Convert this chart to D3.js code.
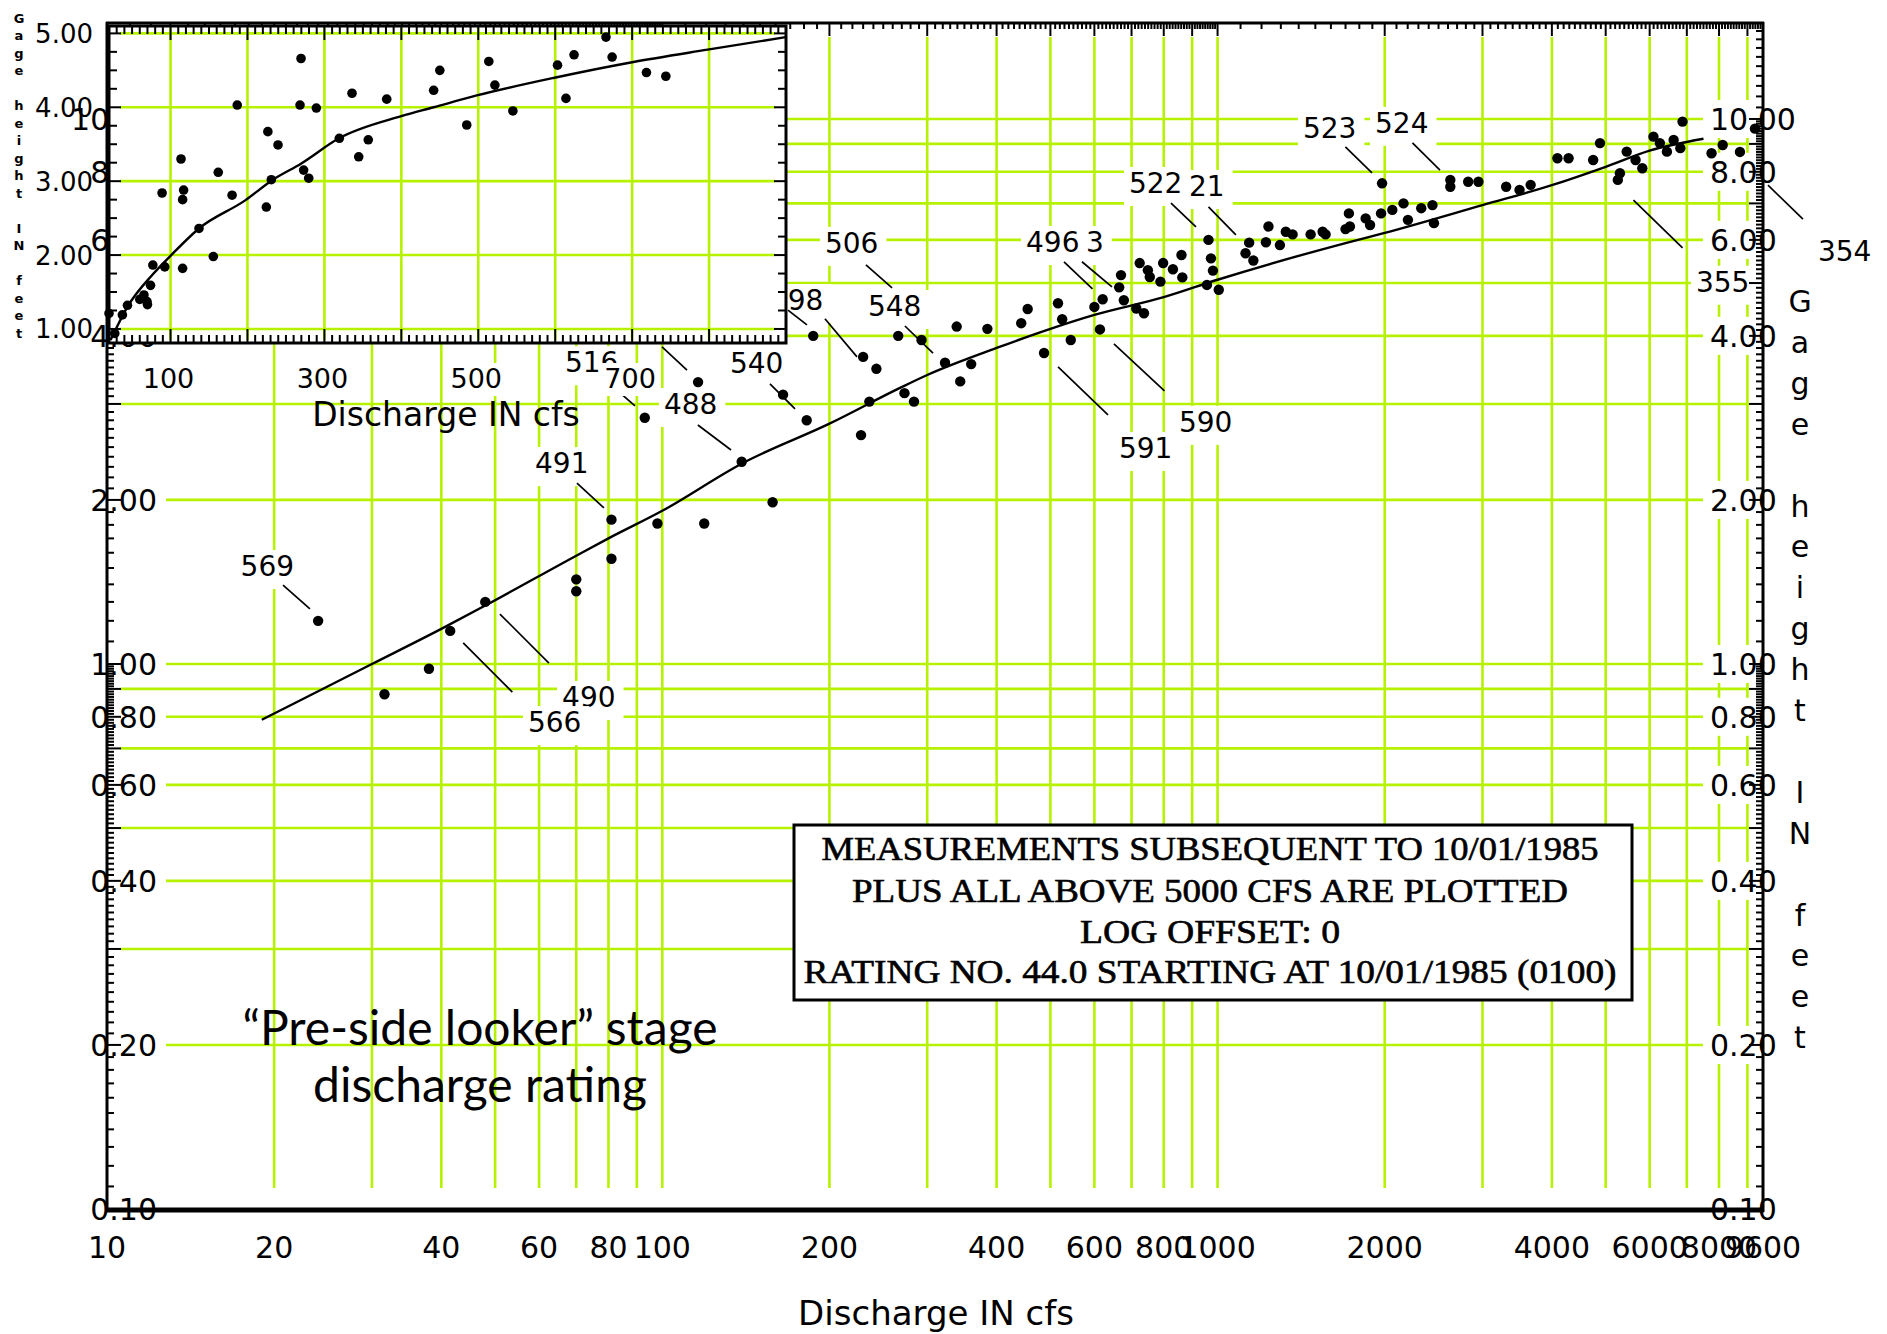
<!DOCTYPE html>
<html><head><meta charset="utf-8">
<script src="https://cdn.jsdelivr.net/npm/d3@7/dist/d3.min.js"></script>
<style>html,body{margin:0;padding:0;background:#fff;}svg{display:block;}</style>
</head><body>
<svg id="chart" width="1887" height="1334"></svg>
<script>
// ---------------- data ----------------
// main rating curve (discharge cfs, gage height ft)
const ratingQ = [19,30,40,48,70,80,100,140,200,268,300,400,500,600,800,1000,1700,2000,3000,4000,5000,6000,7500];
const ratingH = [0.79,1.0,1.16,1.28,1.58,1.70,1.91,2.34,2.76,3.21,3.39,3.80,4.12,4.37,4.71,5.07,5.92,6.18,6.95,7.56,8.17,8.75,9.2];

// main plotted measurements
const measQ = [24,31.6,38,41.5,48,70,70,81,81,98,119,158,139,93,116,182,228,187,230,243,266,293,323,360,344,339,385,284,273,236,165,
  455,443,516,525,544,487,614,600,621,665,670,678,714,737,724,749,755,798,789,831,864,861,963,973,981,957,1005,1140,1123,1160,
  1235,1222,1295,1327,1365,1471,1546,1565,1700,1731,1724,1848,1882,1970,1978,2064,2162,2202,2327,2438,2453,2625,2625,2827,2950,
  3309,3498,3663,4093,4287,4747,4883,5258,5304,5455,5660,5820,6095,6260,6445,6627,6814,6876,8123,7755,8725,9285];
const measH = [1.2,0.88,0.98,1.15,1.30,1.43,1.36,1.56,1.84,1.81,1.81,1.98,2.35,2.83,3.29,2.80,2.63,4.0,3.66,3.48,4.0,3.93,3.57,3.55,3.3,4.16,4.12,3.03,3.14,3.03,3.12,
  4.48,4.22,4.59,4.29,3.93,3.72,4.11,4.52,4.67,4.91,5.17,4.65,4.49,4.40,5.44,5.28,5.13,5.44,5.03,5.30,5.12,5.63,6.0,5.55,5.27,4.96,4.86,5.93,5.67,5.5,
  6.35,5.94,5.87,6.21,6.14,6.14,6.21,6.14,6.28,6.35,6.71,6.57,6.39,6.71,7.62,6.81,7.0,6.53,6.86,6.95,6.44,7.73,7.51,7.67,7.67,
  7.51,7.41,7.57,8.47,8.47,8.41,9.03,7.73,7.95,8.71,8.41,8.12,9.28,9.03,8.71,9.15,8.84,9.89,8.96,8.65,8.7,9.6];

// measurement number labels (text anchor in data units)
const annotText = ["569","516","488","540","491","490","566","506","498","548","496","3","591","590","522","21","523","524","355","354"];
const annotQ = [17.4,66.8,100.7,132.4,59.0,66.0,57.3,196.3,156.3,234.6,451.9,579.4,664.4,852.2,692.5,888.2,1425,1921,7270,12059];
const annotH = [1.45,3.43,2.876,3.42,2.24,0.834,0.750,5.68,4.46,4.35,5.70,5.70,2.388,2.666,7.315,7.22,9.23,9.43,4.82,5.49];

// leader lines (data units)
const leadQ1 = [20.75,80.0,115.9,156.3,99.9,70.2,51.0,43.8,232.7,168.4,196.3,273.5,529,569.9,516.1,650.7,824.5,963,1699,2244,5610,9800];
const leadH1 = [1.396,3.28,2.745,3.265,3.817,2.148,1.235,1.093,5.40,4.46,4.30,4.17,5.47,5.47,3.51,3.866,7.01,6.90,8.885,9.04,7.10,7.56];
const leadQ2 = [23.2,89.3,133.0,173.4,110.8,78.5,62.5,53.7,259.3,182.2,224.2,307.3,595.3,645.4,634.8,802.4,914.3,1079,1897,2515,6877,11330];
const leadH2 = [1.262,2.975,2.47,2.937,3.462,1.933,1.004,0.888,4.90,4.19,3.66,3.72,4.88,4.92,2.864,3.17,6.34,6.13,7.96,8.06,5.80,6.55];

// axis tick labels
const xTickLabels = [10,20,40,60,80,100,200,400,600,800,1000,2000,4000,6000,8000,9600];
const yTickLabels = [0.1,0.2,0.4,0.6,0.8,1,2,4,6,8,10];

// inset (linear) rating and measurements
const insetRatingQ = [22,44,77,100,137,197,233,270,319,400,442,498,599,700,798,900];
const insetRatingH = [0.85,1.30,1.74,1.99,2.36,2.74,3.02,3.24,3.58,3.88,4.00,4.16,4.40,4.61,4.78,4.95];
const insetQ = [20,27.5,37.4,44,65.4,69.4,74,77,89,92.5,113.6,117,115.7,115.7,137,155.6,162,180,186.7,224.5,
  226.5,239.7,231,269.6,268.3,289.5,273,279.6,319.4,335.9,344.6,357,381,442,450,485,513.7,521.6,545,603,614,624.5,666,674,718.6,743.8,60,70];
const insetH = [1.21,0.94,1.19,1.32,1.46,1.37,1.59,1.865,2.84,1.84,3.30,2.88,2.75,1.82,2.36,1.98,3.12,2.81,4.03,2.65,
  3.67,3.49,3.02,4.66,4.03,3.99,3.15,3.04,3.58,4.19,3.33,3.56,4.11,4.23,4.50,3.76,4.62,4.30,3.95,4.57,4.12,4.71,4.95,4.68,4.47,4.42,1.40,1.33];
const insetXTicks = [100,300,500,700];
const insetYTicks = [1,2,3,4,5];

const boxLines = ["MEASUREMENTS SUBSEQUENT TO 10/01/1985","PLUS ALL ABOVE 5000 CFS ARE PLOTTED","LOG OFFSET: 0","RATING NO. 44.0  STARTING AT 10/01/1985 (0100)"];
const boxLineWidths = [777,716,260,813];
const yTitle = "Gage height IN feet";

// ---------------- drawing ----------------
const svg = d3.select('#chart');
const GREEN = '#b6f200';
const SANS = "'DejaVu Sans', Verdana, sans-serif";

svg.append('rect').attr('width',1887).attr('height',1334).attr('fill','#fff');

const x = d3.scaleLog().domain([10, 9600]).range([107, 1763]);
const y = d3.scaleLog().domain([0.1, 15]).range([1209, 23]);

const gridX = [];
[10,100,1000].forEach(d => { for (let k=2;k<=9;k++) gridX.push(d*k); if (d<1000) gridX.push(d*10); });
const gridY = [];
[0.1,1].forEach(d => { for (let k=2;k<=9;k++) gridY.push(+(d*k).toFixed(2)); gridY.push(d*10); });

// grid
const grid = svg.append('g').attr('stroke',GREEN).attr('stroke-width',2.6);
gridX.forEach(v => grid.append('line').attr('x1',x(v)).attr('x2',x(v)).attr('y1',37).attr('y2',1188));
gridY.forEach(v => grid.append('line').attr('x1',121).attr('x2',1749).attr('y1',y(v)).attr('y2',y(v)));

function boxed(g, str, px, py, size, anchor, pad) {
  const t = g.append('text').attr('x',px).attr('y',py).attr('font-size',size)
    .attr('font-family',SANS).attr('text-anchor',anchor||'start').attr('fill','#000').text(str);
  const b = t.node().getBBox();
  g.insert('rect', () => t.node()).attr('x', b.x - pad[3]).attr('y', b.y - pad[0])
    .attr('width', b.width + pad[1] + pad[3]).attr('height', b.height + pad[0] + pad[2]).attr('fill','#fff');
  return t;
}

// axis labels (left & right) with white boxes
const lab = svg.append('g');
const fmtY = v => v.toFixed(2);
yTickLabels.forEach(v => {
  lab.append('rect').attr('x',84).attr('y',y(v)-19).attr('width',82).attr('height',38).attr('fill','#fff');
  lab.append('text').attr('x',157).attr('y',y(v)+11).attr('text-anchor','end')
    .attr('font-size',30).attr('font-family',SANS).text(fmtY(v));
  lab.append('rect').attr('x',1703).attr('y',y(v)-19).attr('width',84).attr('height',38).attr('fill','#fff');
  lab.append('text').attr('x',1710).attr('y',y(v)+11).attr('text-anchor','start')
    .attr('font-size',30).attr('font-family',SANS).text(fmtY(v));
});
// bottom labels
xTickLabels.forEach(v => {
  lab.append('text').attr('x',x(v)).attr('y',1258).attr('text-anchor','middle')
    .attr('font-size',30).attr('font-family',SANS).text(String(v));
});

// annotations
const ann = svg.append('g');
annotText.forEach((s,i) => boxed(ann, s, x(annotQ[i]), y(annotH[i]), 28, 'start', [0,8,6,5]));

// rating curve
const line = d3.line().x(d => x(d[0])).y(d => y(d[1])).curve(d3.curveMonotoneX);
svg.append('path').datum(ratingQ.map((q,i)=>[q,ratingH[i]])).attr('d',line)
  .attr('fill','none').attr('stroke','#000').attr('stroke-width',2.4);

// measurements
svg.append('g').selectAll('circle').data(measQ.map((q,i)=>[q,measH[i]])).join('circle')
  .attr('cx',d=>x(d[0])).attr('cy',d=>y(d[1])).attr('r',5.2).attr('fill','#000');

// leader lines
const lg = svg.append('g').attr('stroke','#000').attr('stroke-width',1.7);
leadQ1.forEach((q,i) => lg.append('line').attr('x1',x(q)).attr('y1',y(leadH1[i])).attr('x2',x(leadQ2[i])).attr('y2',y(leadH2[i])));

// measurement info box
const bx = svg.append('g');
bx.append('rect').attr('x',794).attr('y',825).attr('width',838).attr('height',175)
  .attr('fill','#fff').attr('stroke','#000').attr('stroke-width',3);
const boxBase = [860,902,943,983];
boxLines.forEach((s,i) => bx.append('text').attr('x',1210).attr('y',boxBase[i]).attr('text-anchor','middle')
  .attr('font-family',"'Liberation Serif', 'Times New Roman', serif").attr('font-size',33)
  .attr('stroke','#000').attr('stroke-width',0.6)
  .attr('textLength',boxLineWidths[i]).attr('lengthAdjust','spacingAndGlyphs').text(s));

// caption
const cap = svg.append('g').attr('font-family',"Lato, 'Open Sans', sans-serif").attr('font-size',48).attr('text-anchor','middle');
cap.append('text').attr('x',480).attr('y',1045).text('\u201CPre-side looker\u201D stage');
cap.append('text').attr('x',480).attr('y',1102).text('discharge rating');

// axes frame + ticks
const ax = svg.append('g').attr('stroke','#000');
ax.append('line').attr('x1',107).attr('x2',107).attr('y1',22).attr('y2',1212).attr('stroke-width',3);
ax.append('line').attr('x1',1763).attr('x2',1763).attr('y1',22).attr('y2',1212).attr('stroke-width',3);
ax.append('line').attr('x1',106).attr('x2',1764).attr('y1',23).attr('y2',23).attr('stroke-width',3);
ax.append('line').attr('x1',106).attr('x2',1764).attr('y1',1210).attr('y2',1210).attr('stroke-width',5);

const minorY = [];
for (let i=10;i<100;i++) minorY.push(i/100);
for (let i=10;i<100;i++) minorY.push(i/10);
for (let i=20;i<=30;i++) minorY.push(i/2);
const majorYSet = new Set(gridY.map(v=>+v.toFixed(2)));
minorY.forEach(v => {
  const len = majorYSet.has(+v.toFixed(2)) ? 14 : 7;
  ax.append('line').attr('x1',107).attr('x2',107+len).attr('y1',y(v)).attr('y2',y(v)).attr('stroke-width',2);
  ax.append('line').attr('x1',1763).attr('x2',1763-len).attr('y1',y(v)).attr('y2',y(v)).attr('stroke-width',2);
});
const minorX = [];
for (let i=10;i<100;i++) minorX.push(i);
for (let i=10;i<100;i++) minorX.push(i*10);
for (let i=10;i<=96;i++) minorX.push(i*100);
const majorXSet = new Set(gridX);
minorX.forEach(v => {
  const len = majorXSet.has(v) ? 13 : 6;
  ax.append('line').attr('x1',x(v)).attr('x2',x(v)).attr('y1',23).attr('y2',23+len).attr('stroke-width',2);
});

// right axis title (stacked letters)
const rt = svg.append('g').attr('font-family',SANS).attr('font-size',30).attr('text-anchor','middle');
yTitle.split('').forEach((c,i) => { if (c !== ' ') rt.append('text').attr('x',1800).attr('y',312+40.9*i).text(c); });

// bottom axis title
svg.append('text').attr('x',936).attr('y',1325).attr('text-anchor','middle').attr('font-family',SANS)
  .attr('font-size',34).text('Discharge IN cfs');

// ---------------- inset ----------------
const ix = d3.scaleLinear().domain([20,900]).range([109,786]);
const iy = d3.scaleLinear().domain([0.81,5.1]).range([343,26]);
const ig = svg.append('g');
ig.append('rect').attr('x',109).attr('y',25).attr('width',677).attr('height',318).attr('fill','#fff');
const igrid = ig.append('g').attr('stroke',GREEN).attr('stroke-width',2.6);
d3.range(100,801,100).forEach(v => igrid.append('line').attr('x1',ix(v)).attr('x2',ix(v)).attr('y1',28).attr('y2',340));
insetYTicks.forEach(v => igrid.append('line').attr('x1',120).attr('x2',775).attr('y1',iy(v)).attr('y2',iy(v)));

const iline = d3.line().x(d => ix(d[0])).y(d => iy(d[1])).curve(d3.curveMonotoneX);
ig.append('path').datum(insetRatingQ.map((q,i)=>[q,insetRatingH[i]])).attr('d',iline)
  .attr('fill','none').attr('stroke','#000').attr('stroke-width',2.4);
ig.append('g').selectAll('circle').data(insetQ.map((q,i)=>[q,insetH[i]])).join('circle')
  .attr('cx',d=>ix(d[0])).attr('cy',d=>iy(d[1])).attr('r',4.8).attr('fill','#000');

const iax = ig.append('g').attr('stroke','#000');
iax.append('rect').attr('x',109).attr('y',26).attr('width',677).attr('height',317).attr('fill','none').attr('stroke-width',3);
for (let v=20; v<=900; v+=10) {
  const len = v % 100 === 0 ? 13 : 7;
  iax.append('line').attr('x1',ix(v)).attr('x2',ix(v)).attr('y1',27).attr('y2',27+len).attr('stroke-width',2);
  iax.append('line').attr('x1',ix(v)).attr('x2',ix(v)).attr('y1',342).attr('y2',342-len).attr('stroke-width',2);
}
for (let k=4; k<=20; k++) {
  const v = k/4, len = k % 4 === 0 ? 12 : 8;
  iax.append('line').attr('x1',109).attr('x2',109+len).attr('y1',iy(v)).attr('y2',iy(v)).attr('stroke-width',2);
  iax.append('line').attr('x1',786).attr('x2',786-len).attr('y1',iy(v)).attr('y2',iy(v)).attr('stroke-width',2);
}
// inset labels
insetXTicks.forEach(v => boxed(ig, String(v), ix(v)-2, 388, 27, 'middle', [0,4,2,4]));
ig.append('text').attr('x',446).attr('y',426).attr('text-anchor','middle').attr('font-family',SANS)
  .attr('font-size',33).text('Discharge IN cfs');
insetYTicks.forEach(v => ig.append('text').attr('x',93).attr('y',iy(v)+9.5).attr('text-anchor','end')
  .attr('font-family',SANS).attr('font-size',26).text(v.toFixed(2)));
const it = ig.append('g').attr('font-family',SANS).attr('font-size',13).attr('font-weight','bold').attr('text-anchor','middle');
yTitle.split('').forEach((c,i) => { if (c !== ' ') it.append('text').attr('x',19).attr('y',22.5+17.5*i).text(c); });
</script>
</body></html>
